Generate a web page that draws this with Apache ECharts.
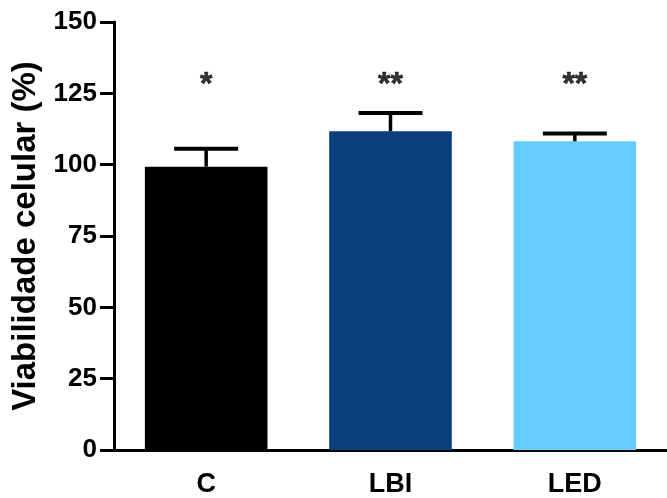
<!DOCTYPE html>
<html>
<head>
<meta charset="utf-8">
<script src="https://cdn.jsdelivr.net/npm/echarts@6/dist/echarts.min.js"></script>
<style>
html,body{margin:0;padding:0;background:#fff;}
#c1{width:667px;height:498px;}
</style>
</head>
<body>
<div id="c1"></div>
<script>
// data
var categories = ['C', 'LBI', 'LED'];
var means = [99.3, 111.7, 108.2];
var errTop = [105.6, 118.1, 110.9];
var barColors = ['#000000', '#0b3e7e', '#66ccfd'];
var sigLabels = ['*', '**', '**'];
var sigLevel = [128, 128, 128];
var yTicks = [0, 25, 50, 75, 100, 125, 150];

var font = '"Liberation Sans", Arial, sans-serif';
var chart = echarts.init(document.getElementById('c1'));

var option = {
    backgroundColor: '#fff',
    animation: false,
    grid: {
        left: 114,
        top: 22,
        width: 555,
        height: 428
    },
    xAxis: {
        type: 'category',
        data: categories,
        axisLine: { lineStyle: { color: '#000', width: 3 } },
        axisTick: { alignWithLabel: true, length: 14, lineStyle: { color: '#000', width: 3 } },
        axisLabel: {
            color: '#000',
            fontFamily: font,
            fontWeight: 'bold',
            fontSize: 27,
            margin: 21
        }
    },
    yAxis: {
        type: 'value',
        min: yTicks[0],
        max: yTicks[yTicks.length - 1],
        interval: 25,
        name: 'Viabilidade celular (%)',
        nameLocation: 'middle',
        nameGap: 71,
        nameTextStyle: {
            color: '#000',
            fontFamily: font,
            fontWeight: 'bold',
            fontSize: 33
        },
        axisLine: { show: true, lineStyle: { color: '#000', width: 3 } },
        axisTick: { show: true, length: 14, lineStyle: { color: '#000', width: 3 } },
        axisLabel: {
            color: '#000',
            fontFamily: font,
            fontWeight: 'bold',
            fontSize: 26,
            margin: 17
        },
        splitLine: { show: false }
    },
    series: [
        {
            type: 'bar',
            barWidth: '66.5%',
            data: means.map(function (v, i) {
                return { value: v, itemStyle: { color: barColors[i] } };
            }),
            z: 2
        },
        {
            type: 'custom',
            data: means.map(function (v, i) { return [i, v, errTop[i]]; }),
            renderItem: function (params, api) {
                var low = api.coord([api.value(0), api.value(1)]);
                var high = api.coord([api.value(0), api.value(2)]);
                var half = 32;
                return {
                    type: 'group',
                    children: [
                        { type: 'line', shape: { x1: low[0], y1: low[1], x2: high[0], y2: high[1] },
                          style: { stroke: '#000', lineWidth: 3.5 } },
                        { type: 'line', shape: { x1: high[0] - half, y1: high[1], x2: high[0] + half, y2: high[1] },
                          style: { stroke: '#000', lineWidth: 4 } }
                    ]
                };
            },
            z: 3
        },
        {
            type: 'scatter',
            symbolSize: 0,
            data: sigLevel.map(function (v, i) { return [i, v]; }),
            label: {
                show: true,
                position: 'inside',
                color: '#000',
                fontFamily: font,
                fontWeight: 'bold',
                fontSize: 32,
                textBorderColor: '#000',
                textBorderWidth: 0.6,
                formatter: function (p) { return sigLabels[p.dataIndex]; }
            },
            z: 4
        }
    ]
};
chart.setOption(option);
</script>
</body>
</html>
